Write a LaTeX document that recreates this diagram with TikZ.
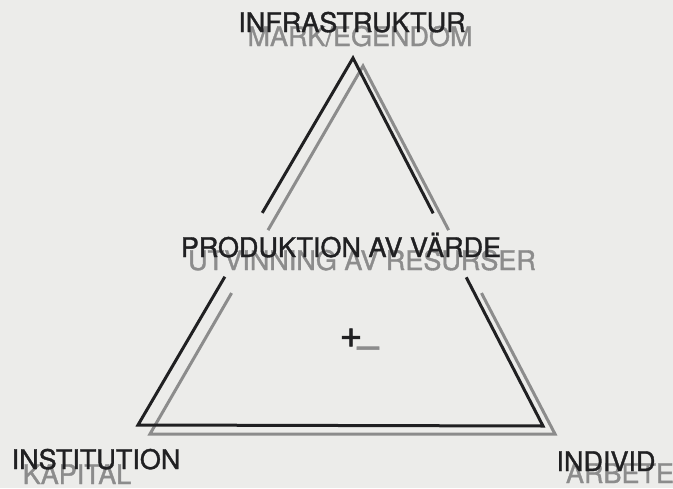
\documentclass[tikz,border=0pt]{standalone}
\usepackage{fontspec}
\setmainfont{TeX Gyre Heros}
\newfontface\medfont{TeX Gyre Heros}[FakeBold=1.3]
\usetikzlibrary{calc}
\definecolor{wall}{RGB}{236,236,234}
\definecolor{ink}{RGB}{32,32,34}
\definecolor{shade}{RGB}{140,140,140}

\begin{document}
\begin{tikzpicture}[x=1pt, y=-1pt,
  btxt/.style={font=\medfont\fontsize{27}{30}\selectfont, text=ink, inner sep=0pt, anchor=base},
  gtxt/.style={btxt, text=shade},
  sign/.style={font=\medfont\fontsize{40}{44}\selectfont, inner sep=0pt, anchor=center},
  bline/.style={draw=ink, line width=3pt},
  gline/.style={bline, draw=shade},
]
\fill[wall] (0,0) rectangle (673,488);
\useasboundingbox (0,0) rectangle (673,488);

%% GREY TRIANGLE (shifted copy)
\coordinate (GA) at (363,66);
\coordinate (GL) at (150,434);
\coordinate (GR) at (555,434);
\draw[gline] ($(GA)!0.446!(GL)$) -- (GA) -- ($(GA)!0.446!(GR)$);
\draw[gline] ($(GA)!0.617!(GL)$) -- (GL) -- (GR) -- ($(GA)!0.617!(GR)$);

%% BLACK TRIANGLE
\coordinate (BA) at (353,58);
\coordinate (BL) at (138,425);
\coordinate (BR) at (543,426);
\draw[bline] ($(BA)!0.422!(BL)$) -- (BA) -- ($(BA)!0.422!(BR)$);
\draw[bline] ($(BA)!0.596!(BL)$) -- (BL) -- (BR) -- ($(BA)!0.596!(BR)$);

%% GREY LABELS
\node[gtxt] (mark)  at (360,46)  {MARK/EGENDOM};
\node[gtxt] (utv)   at (362,270) {UTVINNING AV RESURSER};
\node[gtxt] (kap)   at (77,484)  {KAPITAL};
\node[gtxt] (arb)   at (620,483) {ARBETE};
\node[sign, text=shade] (minus) at (368,353) {–};

%% BLACK LABELS
\node[btxt] (infra) at (352,32)  {INFRASTRUKTUR};
\node[btxt] (prod)  at (341,257) {PRODUKTION AV VÄRDE};
\node[btxt] (inst)  at (96,469)  {INSTITUTION};
\node[btxt] (indiv) at (606,471) {INDIVID};
\node[sign, text=ink] (plus) at (351,338) {+};

\end{tikzpicture}
\end{document}
